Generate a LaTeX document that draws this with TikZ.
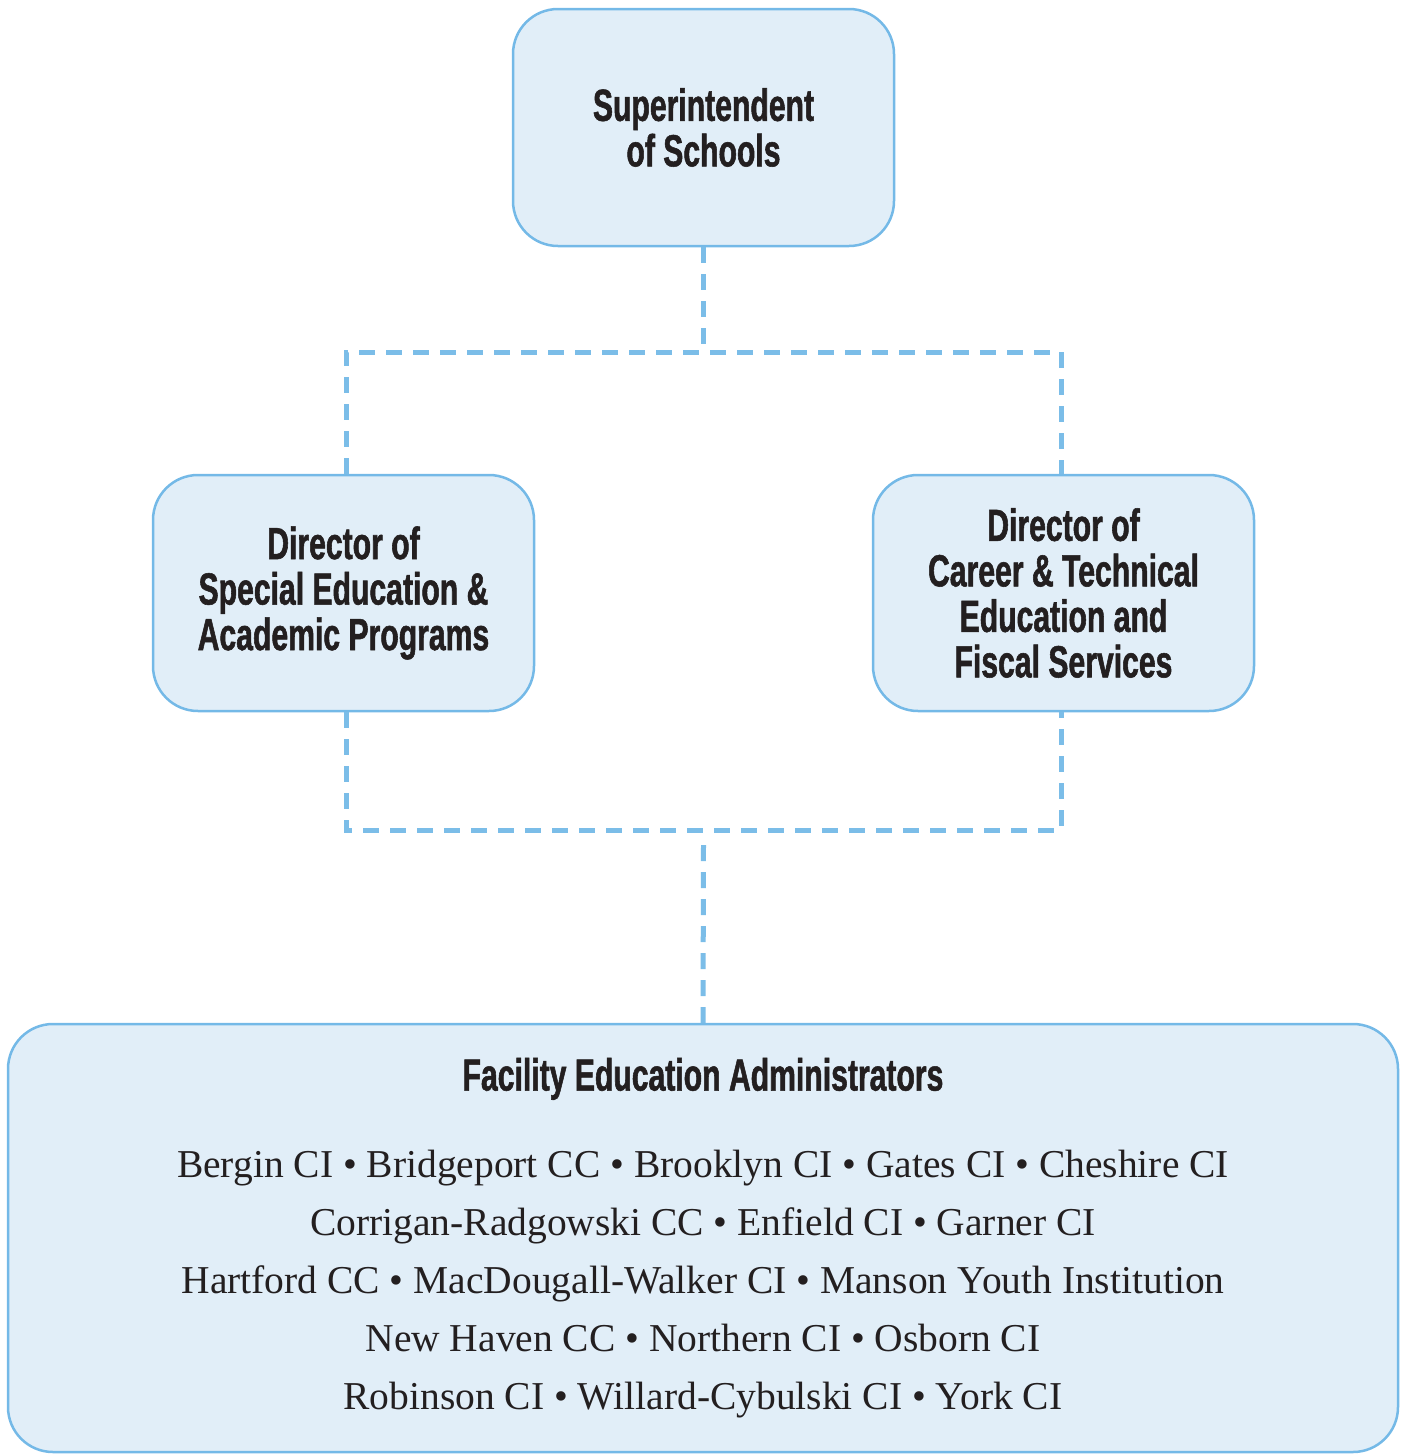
\documentclass[tikz,border=0pt]{standalone}
\usepackage{fontspec}
\newfontfamily\headfont{Liberation Sans}[FakeStretch=0.67,FakeBold=1.2]
\newfontfamily\listfont{Liberation Serif}
\usetikzlibrary{calc}
\definecolor{rim}{HTML}{74B9E7}
\definecolor{dash}{HTML}{7BBDE8}
\definecolor{pane}{HTML}{E1EEF8}
\definecolor{ink}{HTML}{231F20}
\tikzset{box/.style={draw=rim,fill=pane,line width=2.5pt,rounded corners=45pt,align=center,text=ink,inner sep=0pt}}
\tikzset{l/.style={font=\headfont\bfseries\fontsize{45}{45.5}\selectfont}}
\tikzset{link/.style={draw=dash,line width=5pt,dash pattern=on 16pt off 11pt}}
\begin{document}
\begin{tikzpicture}[x=1pt,y=-1pt]
  \useasboundingbox (0,0) rectangle (1406,1454);
  \node[box,l,minimum width=381pt,minimum height=237pt] (sup) at (703.5,127.5) {Superintendent\\of Schools};
  \node[box,l,minimum width=381pt,minimum height=236pt] (spec) at (343.5,593) {Director of\\Special Education \&\\Academic Programs};
  \node[box,l,minimum width=381pt,minimum height=236pt] (tech) at (1063.5,593) {Director of\\Career \& Technical\\Education and\\Fiscal Services};
  \node[box,minimum width=1390pt,minimum height=428pt,font=\listfont\fontsize{39.5}{58}\selectfont] (fac) at (703,1238)
    {{\headfont\bfseries\fontsize{45}{45.5}\selectfont Facility Education Administrators}\\[29pt]
     Bergin CI \textbullet{} Bridgeport CC \textbullet{} Brooklyn CI \textbullet{} Gates CI \textbullet{} Cheshire CI\\
     Corrigan-Radgowski CC \textbullet{} Enfield CI \textbullet{} Garner CI\\
     Hartford CC \textbullet{} MacDougall-Walker CI \textbullet{} Manson Youth Institution\\
     New Haven CC \textbullet{} Northern CI \textbullet{} Osborn CI\\
     Robinson CI \textbullet{} Willard-Cybulski CI \textbullet{} York CI};
  \coordinate (up) at (703.5,352);
  \coordinate (down) at (703.5,830);
  % dashed links
  \draw[link] (sup.south) -- (up);
  \draw[link] ($(spec.north)+(2.5,0)$) -- ($(spec.north |- up)+(2.5,0)$) -- ($(tech.north |- up)+(-2.5,0)$) -- ($(tech.north)+(-2.5,0)$);
  \draw[link] ($(spec.south)+(2.5,0)$) -- ($(spec.south |- down)+(2.5,0)$) -- ($(tech.south |- down)+(-2.5,0)$) -- ($(tech.south)+(-2.5,0)$);
  \draw[link] ($(down)+(0,15)$) -- (fac.north);
\end{tikzpicture}
\end{document}
